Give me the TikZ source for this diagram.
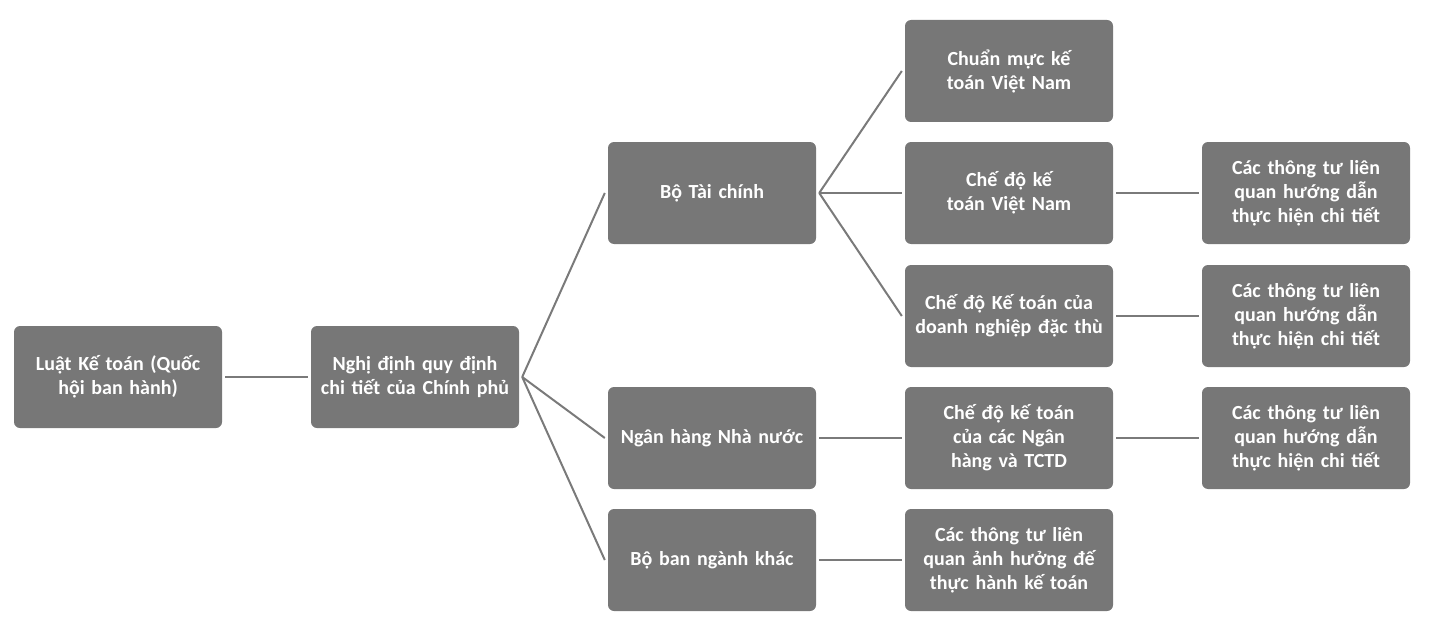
\documentclass[tikz,border=0pt]{standalone}
\usepackage{fontspec}
\setmainfont{Carlito}
\begin{document}
\begin{tikzpicture}[x=1pt,y=-1pt,
 box/.style={draw=none,fill=boxg,rounded corners=6pt,minimum width=208pt,minimum height=102pt,
   text width=190pt,align=center,text=white,font=\bfseries\fontsize{20}{24}\selectfont,inner sep=0pt},
 ln/.style={draw=lineg,line width=2pt}]
\definecolor{boxg}{HTML}{777777}
\definecolor{lineg}{HTML}{7A7A7A}
\useasboundingbox (0,0) rectangle (1434,623);
\node[box] (a) at (118,377) {Luật Kế toán (Quốc hội ban hành)};
\node[box] (b) at (415,377) {Nghị định quy định chi tiết của Chính phủ};
\node[box] (c1) at (712,193) {Bộ Tài chính};
\node[box] (c2) at (712,438) {Ngân hàng Nhà nước};
\node[box] (c3) at (712,560) {Bộ ban ngành khác};
\node[box] (d1) at (1009,71) {Chuẩn mực kế toán Việt Nam};
\node[box] (d2) at (1009,193) {Chế độ kế toán Việt Nam};
\node[box] (d3) at (1009,316) {Chế độ Kế toán của doanh nghiệp đặc thù};
\node[box] (d4) at (1009,438) {Chế độ kế toán của các Ngân hàng và TCTD};
\node[box] (d5) at (1009,560) {Các thông tư liên quan ảnh hưởng đế thực hành kế toán};
\node[box] (e2) at (1306,193) {Các thông tư liên quan hướng dẫn thực hiện chi tiết};
\node[box] (e3) at (1306,316) {Các thông tư liên quan hướng dẫn thực hiện chi tiết};
\node[box] (e4) at (1306,438) {Các thông tư liên quan hướng dẫn thực hiện chi tiết};
\coordinate (bo) at ([xshift=3pt]b.east);
\coordinate (co) at ([xshift=3pt]c1.east);
\draw[ln] ([xshift=3pt]a.east) -- ([xshift=-3pt]b.west);
\foreach \t in {c1,c2,c3} \draw[ln] (bo) -- ([xshift=-3pt]\t.west);
\foreach \t in {d1,d2,d3} \draw[ln] (co) -- ([xshift=-3pt]\t.west);
\draw[ln] ([xshift=3pt]c2.east) -- ([xshift=-3pt]d4.west);
\draw[ln] ([xshift=3pt]c3.east) -- ([xshift=-3pt]d5.west);
\draw[ln] ([xshift=3pt]d2.east) -- ([xshift=-3pt]e2.west);
\draw[ln] ([xshift=3pt]d3.east) -- ([xshift=-3pt]e3.west);
\draw[ln] ([xshift=3pt]d4.east) -- ([xshift=-3pt]e4.west);
\end{tikzpicture}
\end{document}
